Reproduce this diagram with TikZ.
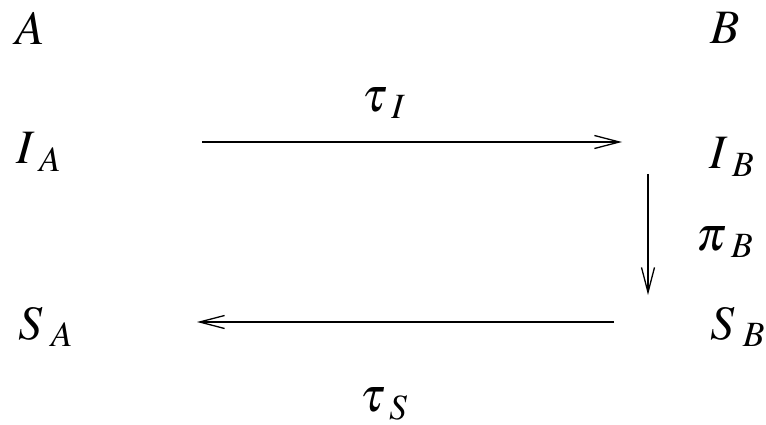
\documentclass[tikz,border=0pt]{standalone}
\usepackage{mathptmx}
\usetikzlibrary{arrows.meta}
\newcommand{\sbs}[1]{_{\mkern4mu #1}}
\begin{document}
\begin{tikzpicture}[x=1pt,y=-1pt,
  lbl/.style={inner sep=0pt,anchor=center,font=\fontsize{48}{54}\selectfont},
  arr/.style={line width=1.3pt,-{Straight Barb[length=25pt,width=13pt,line width=1.3pt]}}]
\useasboundingbox (0,0) rectangle (766,425);
\node[lbl] (A) at (30,28) {$A$};
\node[lbl] (B) at (725,28) {$B$};
\node[lbl] (tI) at (384,103) {$\tau\sbs{I}$};
\node[lbl] (IA) at (39,152) {$I\sbs{A}$};
\node[lbl] (IB) at (732,157) {$I\sbs{B}$};
\node[lbl] (pB) at (725,242) {$\pi\sbs{B}$};
\node[lbl] (SA) at (46,327) {$S\sbs{A}$};
\node[lbl] (SB) at (738,327) {$S\sbs{B}$};
\node[lbl] (tS) at (384,404) {$\tau\sbs{S}$};
\draw[arr,shorten <=163pt,shorten >=110pt] (IA |- 0,142) -- (IB |- 0,142);
\draw[arr,shorten <=17pt,shorten >=32pt] (IB -| 648,0) -- (SB -| 648,0);
\draw[arr,shorten <=124pt,shorten >=151pt] (SB |- 0,322) -- (SA |- 0,322);
\end{tikzpicture}
\end{document}
